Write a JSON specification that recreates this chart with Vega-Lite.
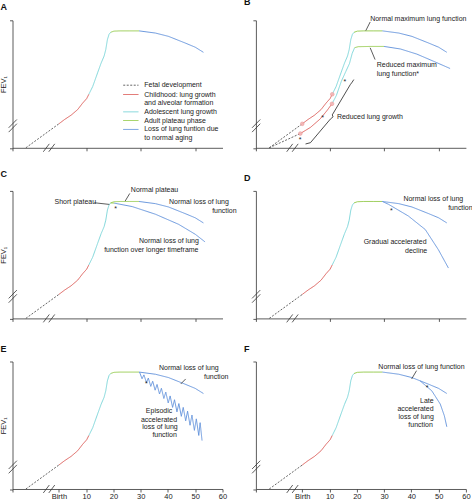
{
  "$schema": "https://vega.github.io/schema/vega-lite/v6.json",
  "padding": {"left": -0.5, "top": -1.7, "right": 0, "bottom": 0},
  "background": "white",
  "columns": 2,
  "spacing": {"row": 42.6, "column": 33.4},
  "bounds": "flush",
  "config": {
    "view": {"stroke": null},
    "font": "Liberation Sans",
    "axis": {"domainColor": "#333", "domainWidth": 0.8, "tickColor": "#333", "tickWidth": 0.8, "tickSize": 3, "grid": false, "labelFont": "Liberation Sans", "labelFontSize": 7.5, "labelColor": "#222", "labelPadding": 1, "labelOverlap": false, "labelBound": false, "titleFont": "Liberation Sans", "titleFontSize": 7.5, "titleFontWeight": "normal", "titleColor": "#222", "titlePadding": 1.5},
    "axisX": {"labelOverlap": false, "labelFlush": false},
    "axisQuantitative": {"labelOverlap": false},
    "title": {"anchor": "start", "frame": "group", "dx": -12, "offset": 7.4, "fontSize": 9, "fontWeight": "bold", "font": "Liberation Sans", "color": "#111", "baseline": "alphabetic"},
    "text": {"font": "Liberation Sans", "fontSize": 7, "color": "#222", "align": "left", "baseline": "middle"},
    "rule": {"color": "#333", "strokeWidth": 0.8}
  },
  "datasets": {
    "c": [
      {"p": "N", "id": "nf", "ph": "fetal", "x": -12.1, "y": 0},
      {"p": "N", "id": "nf", "ph": "fetal", "x": 0, "y": 18.8},
      {"p": "N", "id": "nc", "ph": "child", "x": 0, "y": 18.8},
      {"p": "N", "id": "nc", "ph": "child", "x": 2.1, "y": 22.2},
      {"p": "N", "id": "nc", "ph": "child", "x": 4.5, "y": 25.6},
      {"p": "N", "id": "nc", "ph": "child", "x": 6.9, "y": 30.0},
      {"p": "N", "id": "nc", "ph": "child", "x": 8.7, "y": 35.0},
      {"p": "N", "id": "nc", "ph": "child", "x": 10.2, "y": 38.6},
      {"p": "N", "id": "nc", "ph": "child", "x": 11.0, "y": 42.0},
      {"p": "N", "id": "na", "ph": "adol", "x": 11.0, "y": 42.0},
      {"p": "N", "id": "na", "ph": "adol", "x": 12.4, "y": 48.0},
      {"p": "N", "id": "na", "ph": "adol", "x": 14.2, "y": 58.8},
      {"p": "N", "id": "na", "ph": "adol", "x": 15.5, "y": 66.5},
      {"p": "N", "id": "na", "ph": "adol", "x": 16.6, "y": 72.0},
      {"p": "N", "id": "na", "ph": "adol", "x": 17.2, "y": 77.0},
      {"p": "N", "id": "na", "ph": "adol", "x": 17.8, "y": 84.9},
      {"p": "N", "id": "na", "ph": "adol", "x": 18.4, "y": 89.0},
      {"p": "N", "id": "na", "ph": "adol", "x": 19.0, "y": 90.6},
      {"p": "N", "id": "np", "ph": "plat", "x": 19.0, "y": 90.6},
      {"p": "N", "id": "np", "ph": "plat", "x": 20.2, "y": 91.5},
      {"p": "N", "id": "np", "ph": "plat", "x": 22.5, "y": 91.7},
      {"p": "N", "id": "np", "ph": "plat", "x": 26.0, "y": 91.7},
      {"p": "N", "id": "np", "ph": "plat", "x": 29.4, "y": 91.7},
      {"p": "N", "id": "nl", "ph": "loss", "x": 29.4, "y": 91.7},
      {"p": "N", "id": "nl", "ph": "loss", "x": 35.4, "y": 90.0},
      {"p": "N", "id": "nl", "ph": "loss", "x": 40.2, "y": 87.4},
      {"p": "N", "id": "nl", "ph": "loss", "x": 46.3, "y": 82.2},
      {"p": "N", "id": "nl", "ph": "loss", "x": 50.0, "y": 78.9},
      {"p": "N", "id": "nl", "ph": "loss", "x": 53.0, "y": 74.9},

      {"p": "A", "id": "lg1", "ph": "fetal", "x": 23.6, "y": 49.1},
      {"p": "A", "id": "lg1", "ph": "fetal", "x": 29.2, "y": 49.1},
      {"p": "A", "id": "lg2", "ph": "child", "x": 23.6, "y": 41.8},
      {"p": "A", "id": "lg2", "ph": "child", "x": 29.2, "y": 41.8},
      {"p": "A", "id": "lg3", "ph": "adol", "x": 23.6, "y": 28.2},
      {"p": "A", "id": "lg3", "ph": "adol", "x": 29.2, "y": 28.2},
      {"p": "A", "id": "lg4", "ph": "plat", "x": 23.6, "y": 21.4},
      {"p": "A", "id": "lg4", "ph": "plat", "x": 29.2, "y": 21.4},
      {"p": "A", "id": "lg5", "ph": "loss", "x": 23.6, "y": 14.4},
      {"p": "A", "id": "lg5", "ph": "loss", "x": 29.2, "y": 14.4},

      {"p": "B", "id": "bf", "ph": "fetal", "x": -12.1, "y": 0},
      {"p": "B", "id": "bf", "ph": "fetal", "x": -0.7, "y": 11.2},
      {"p": "B", "id": "bc", "ph": "child", "x": -0.7, "y": 11.2},
      {"p": "B", "id": "bc", "ph": "child", "x": 3.0, "y": 16.0},
      {"p": "B", "id": "bc", "ph": "child", "x": 6.5, "y": 22.5},
      {"p": "B", "id": "bc", "ph": "child", "x": 9.0, "y": 29.0},
      {"p": "B", "id": "bc", "ph": "child", "x": 10.9, "y": 34.5},
      {"p": "B", "id": "ba", "ph": "adol", "x": 10.9, "y": 34.5},
      {"p": "B", "id": "ba", "ph": "adol", "x": 12.5, "y": 41.0},
      {"p": "B", "id": "ba", "ph": "adol", "x": 14.3, "y": 52.0},
      {"p": "B", "id": "ba", "ph": "adol", "x": 16.0, "y": 60.0},
      {"p": "B", "id": "ba", "ph": "adol", "x": 17.3, "y": 66.0},
      {"p": "B", "id": "ba", "ph": "adol", "x": 18.3, "y": 74.0},
      {"p": "B", "id": "ba", "ph": "adol", "x": 19.2, "y": 78.5},
      {"p": "B", "id": "bp", "ph": "plat", "x": 19.2, "y": 78.5},
      {"p": "B", "id": "bp", "ph": "plat", "x": 20.5, "y": 79.3},
      {"p": "B", "id": "bp", "ph": "plat", "x": 25.0, "y": 79.5},
      {"p": "B", "id": "bp", "ph": "plat", "x": 30.0, "y": 79.5},
      {"p": "B", "id": "bl", "ph": "loss", "x": 30.0, "y": 79.5},
      {"p": "B", "id": "bl", "ph": "loss", "x": 36.0, "y": 77.5},
      {"p": "B", "id": "bl", "ph": "loss", "x": 42.0, "y": 73.5},
      {"p": "B", "id": "bl", "ph": "loss", "x": 48.0, "y": 68.0},
      {"p": "B", "id": "bl", "ph": "loss", "x": 54.2, "y": 62.2},

      {"p": "C", "id": "cp", "ph": "plat", "x": 19.0, "y": 90.6},
      {"p": "C", "id": "cp", "ph": "plat", "x": 20.3, "y": 90.4},
      {"p": "C", "id": "cl", "ph": "loss", "x": 20.3, "y": 90.4},
      {"p": "C", "id": "cl", "ph": "loss", "x": 26.9, "y": 87.7},
      {"p": "C", "id": "cl", "ph": "loss", "x": 35.4, "y": 81.7},
      {"p": "C", "id": "cl", "ph": "loss", "x": 43.9, "y": 73.8},
      {"p": "C", "id": "cl", "ph": "loss", "x": 50.0, "y": 66.0},
      {"p": "C", "id": "cl", "ph": "loss", "x": 53.6, "y": 60.0},

      {"p": "D", "id": "dl", "ph": "loss", "x": 29.4, "y": 91.7},
      {"p": "D", "id": "dl", "ph": "loss", "x": 31.6, "y": 89.5},
      {"p": "D", "id": "dl", "ph": "loss", "x": 38.9, "y": 80.3},
      {"p": "D", "id": "dl", "ph": "loss", "x": 45.1, "y": 69.7},
      {"p": "D", "id": "dl", "ph": "loss", "x": 49.9, "y": 53.9},
      {"p": "D", "id": "dl", "ph": "loss", "x": 53.6, "y": 39.5},

      {"p": "E", "id": "ez", "ph": "loss", "x": 29.6, "y": 91.6},
      {"p": "E", "id": "ez", "ph": "loss", "x": 30.5, "y": 86.5},
      {"p": "E", "id": "ez", "ph": "loss", "x": 31.2, "y": 89.5},
      {"p": "E", "id": "ez", "ph": "loss", "x": 32.1, "y": 83.5},
      {"p": "E", "id": "ez", "ph": "loss", "x": 32.8, "y": 87.0},
      {"p": "E", "id": "ez", "ph": "loss", "x": 33.7, "y": 80.5},
      {"p": "E", "id": "ez", "ph": "loss", "x": 34.4, "y": 84.5},
      {"p": "E", "id": "ez", "ph": "loss", "x": 35.3, "y": 77.5},
      {"p": "E", "id": "ez", "ph": "loss", "x": 36.0, "y": 82.0},
      {"p": "E", "id": "ez", "ph": "loss", "x": 36.9, "y": 74.5},
      {"p": "E", "id": "ez", "ph": "loss", "x": 37.6, "y": 79.0},
      {"p": "E", "id": "ez", "ph": "loss", "x": 38.5, "y": 71.0},
      {"p": "E", "id": "ez", "ph": "loss", "x": 39.2, "y": 76.0},
      {"p": "E", "id": "ez", "ph": "loss", "x": 40.1, "y": 67.5},
      {"p": "E", "id": "ez", "ph": "loss", "x": 40.8, "y": 73.0},
      {"p": "E", "id": "ez", "ph": "loss", "x": 41.7, "y": 64.0},
      {"p": "E", "id": "ez", "ph": "loss", "x": 42.4, "y": 70.0},
      {"p": "E", "id": "ez", "ph": "loss", "x": 43.3, "y": 60.5},
      {"p": "E", "id": "ez", "ph": "loss", "x": 44.0, "y": 67.0},
      {"p": "E", "id": "ez", "ph": "loss", "x": 44.9, "y": 57.0},
      {"p": "E", "id": "ez", "ph": "loss", "x": 45.6, "y": 64.0},
      {"p": "E", "id": "ez", "ph": "loss", "x": 46.5, "y": 53.5},
      {"p": "E", "id": "ez", "ph": "loss", "x": 47.2, "y": 61.0},
      {"p": "E", "id": "ez", "ph": "loss", "x": 48.1, "y": 50.0},
      {"p": "E", "id": "ez", "ph": "loss", "x": 48.8, "y": 58.0},
      {"p": "E", "id": "ez", "ph": "loss", "x": 49.7, "y": 46.0},
      {"p": "E", "id": "ez", "ph": "loss", "x": 50.4, "y": 55.0},
      {"p": "E", "id": "ez", "ph": "loss", "x": 51.3, "y": 42.0},
      {"p": "E", "id": "ez", "ph": "loss", "x": 51.8, "y": 52.0},
      {"p": "E", "id": "ez", "ph": "loss", "x": 52.5, "y": 38.0},

      {"p": "F", "id": "fl", "ph": "loss", "x": 43.2, "y": 84.8},
      {"p": "F", "id": "fl", "ph": "loss", "x": 47.5, "y": 77.0},
      {"p": "F", "id": "fl", "ph": "loss", "x": 50.6, "y": 66.6},
      {"p": "F", "id": "fl", "ph": "loss", "x": 52.1, "y": 57.4},
      {"p": "F", "id": "fl", "ph": "loss", "x": 53.0, "y": 48.8}
    ],
    "s": [
      {"p": "all", "x": -5.7, "y": -3.1, "x2": -3.5, "y2": 3.1},
      {"p": "all", "x": -3.7, "y": -3.1, "x2": -1.5, "y2": 3.1},
      {"p": "all", "x": -18.4, "y": 15.7, "x2": -15.4, "y2": 22.2},
      {"p": "all", "x": -18.4, "y": 12.3, "x2": -15.4, "y2": 18.9},
      {"p": "B", "x": 23.3, "y": 91.9, "x2": 24.9, "y2": 98.7},
      {"p": "B", "x": 24.9, "y": 78.4, "x2": 26.7, "y2": 69.2},
      {"p": "C", "x": 13.0, "y": 90.7, "x2": 18.5, "y2": 89.4},
      {"p": "C", "x": 24.3, "y": 92.0, "x2": 26.0, "y2": 98.0},
      {"p": "E", "x": 44.7, "y": 82.4, "x2": 46.5, "y2": 86.3},
      {"p": "F", "x": 40.1, "y": 86.3, "x2": 41.9, "y2": 92.8}
    ],
    "br": [
      {"o": 1, "x": 1.2, "y": 3.0},
      {"o": 2, "x": 3.0, "y": 4.0},
      {"o": 3, "x": 10.3, "y": 22.5},
      {"o": 4, "x": 11.3, "y": 24.3},
      {"o": 5, "x": 11.0, "y": 25.8},
      {"o": 6, "x": 17.6, "y": 49.5},
      {"o": 7, "x": 18.3, "y": 51.5},
      {"o": 8, "x": 18.9, "y": 53.5}
    ],
    "pt": [
      {"x": 0, "y": 18.8},
      {"x": -0.7, "y": 11.2},
      {"x": 11.0, "y": 42.0},
      {"x": 10.9, "y": 34.5}
    ],
    "t": [
      {"p": "A", "x": 31.3, "y": 49.1, "t": "Fetal development"},
      {"p": "A", "x": 31.3, "y": 41.8, "t": "Childhood: lung growth"},
      {"p": "A", "x": 31.3, "y": 35.0, "t": "and alveolar formation"},
      {"p": "A", "x": 31.3, "y": 28.2, "t": "Adolescent lung growth"},
      {"p": "A", "x": 31.3, "y": 21.4, "t": "Adult plateau phase"},
      {"p": "A", "x": 31.3, "y": 14.4, "t": "Loss of lung funtion due"},
      {"p": "A", "x": 31.3, "y": 7.8, "t": "to normal aging"},
      {"p": "B", "x": 24.9, "y": 101.2, "t": "Normal maximum lung function"},
      {"p": "B", "x": 27.3, "y": 65.3, "t": "Reduced maximum"},
      {"p": "B", "x": 27.3, "y": 58.0, "t": "lung function*"},
      {"p": "B", "x": 12.7, "y": 24.5, "t": "Reduced lung growth"},
      {"p": "B", "x": 15.1, "y": 51.7, "t": "*"},
      {"p": "B", "x": 7.0, "y": 23.5, "t": "*"},
      {"p": "B", "x": -1.3, "y": 6.5, "t": "*"},
      {"p": "C", "x": -1.6, "y": 91.5, "t": "Short plateau"},
      {"p": "C", "x": 26.4, "y": 100.6, "t": "Normal plateau"},
      {"p": "C", "x": 40.4, "y": 91.5, "t": "Normal loss of lung"},
      {"p": "C", "x": 56.2, "y": 84.5, "t": "function"},
      {"p": "C", "x": 29.4, "y": 60.7, "t": "Normal loss of lung"},
      {"p": "C", "x": 16.6, "y": 53.6, "t": "function over longer timeframe"},
      {"p": "C", "x": 20.3, "y": 86.0, "t": "*"},
      {"p": "D", "x": 37.1, "y": 93.5, "t": "Normal loss of lung"},
      {"p": "D", "x": 53.5, "y": 86.4, "t": "function"},
      {"p": "D", "x": 22.5, "y": 60.2, "t": "Gradual accelerated"},
      {"p": "D", "x": 37.7, "y": 52.9, "t": "decline"},
      {"p": "D", "x": 32.2, "y": 84.6, "t": "*"},
      {"p": "E", "x": 36.7, "y": 94.9, "t": "Normal loss of lung"},
      {"p": "E", "x": 53.2, "y": 88.1, "t": "function"},
      {"p": "E", "x": 31.9, "y": 61.4, "t": "Episodic"},
      {"p": "E", "x": 30.1, "y": 54.4, "t": "accelerated"},
      {"p": "E", "x": 30.6, "y": 48.4, "t": "loss of lung"},
      {"p": "E", "x": 34.3, "y": 42.4, "t": "function"},
      {"p": "E", "x": 31.6, "y": 82.4, "t": "*"},
      {"p": "F", "x": 27.9, "y": 95.8, "t": "Normal loss of lung function"},
      {"p": "F", "x": 43.2, "y": 69.4, "t": "Late"},
      {"p": "F", "x": 34.9, "y": 63.1, "t": "accelerated"},
      {"p": "F", "x": 35.3, "y": 56.6, "t": "loss of lung"},
      {"p": "F", "x": 38.9, "y": 50.4, "t": "function"},
      {"p": "F", "x": 45.3, "y": 79.2, "t": "*"}
    ]
  },
  "concat": [
    {
      "title": {"text": "A"}, "width": 210, "height": 127.5,
      "layer": [
        {"data": {"name": "c"}, "transform": [{"filter": "datum.p == 'N' || datum.p == 'A'"}],
         "mark": {"type": "line", "strokeWidth": 0.9},
         "encoding": {
           "x": {"field": "x", "type": "quantitative", "scale": {"domain": [-17, 60], "nice": false, "zero": false}, "axis": {"values": [-17, 0, 10, 20, 30, 40, 50, 60], "labels": false, "title": null}},
           "y": {"field": "y", "type": "quantitative", "scale": {"domain": [0, 100], "nice": false, "zero": false}, "axis": {"values": [0, 100], "labels": false, "title": "FEV₁"}},
           "color": {"field": "ph", "type": "nominal", "scale": {"domain": ["fetal", "child", "adol", "plat", "loss"], "range": ["#555555", "#d9534f", "#73d2d6", "#8dc63f", "#5b8dd9"]}, "legend": null},
           "strokeDash": {"field": "ph", "type": "nominal", "scale": {"domain": ["fetal", "child", "adol", "plat", "loss"], "range": [[2, 1.5], [1, 0], [1, 0], [1, 0], [1, 0]]}, "legend": null},
           "detail": {"field": "id"}}},
        {"data": {"name": "s"}, "transform": [{"filter": "datum.p == 'all' || datum.p == 'A'"}],
         "mark": {"type": "rule"},
         "encoding": {"x": {"field": "x", "type": "quantitative"}, "y": {"field": "y", "type": "quantitative"}, "x2": {"field": "x2"}, "y2": {"field": "y2"}}},
        {"data": {"name": "t"}, "transform": [{"filter": "datum.p == 'A'"}],
         "mark": {"type": "text"},
         "encoding": {"x": {"field": "x", "type": "quantitative"}, "y": {"field": "y", "type": "quantitative"}, "text": {"field": "t"}}}
      ]
    },
    {
      "title": {"text": "B"}, "width": 210, "height": 127.5,
      "layer": [
        {"data": {"name": "c"}, "transform": [{"filter": "datum.p == 'N' || datum.p == 'B'"}],
         "mark": {"type": "line", "strokeWidth": 0.9},
         "encoding": {
           "x": {"field": "x", "type": "quantitative", "scale": {"domain": [-17, 60], "nice": false, "zero": false}, "axis": {"values": [-17, 0, 10, 20, 30, 40, 50, 60], "labels": false, "title": null}},
           "y": {"field": "y", "type": "quantitative", "scale": {"domain": [0, 100], "nice": false, "zero": false}, "axis": {"values": [0, 100], "labels": false, "title": null}},
           "color": {"field": "ph", "type": "nominal", "scale": {"domain": ["fetal", "child", "adol", "plat", "loss"], "range": ["#555555", "#d9534f", "#73d2d6", "#8dc63f", "#5b8dd9"]}, "legend": null},
           "strokeDash": {"field": "ph", "type": "nominal", "scale": {"domain": ["fetal", "child", "adol", "plat", "loss"], "range": [[2, 1.5], [1, 0], [1, 0], [1, 0], [1, 0]]}, "legend": null},
           "detail": {"field": "id"}}},
        {"data": {"name": "pt"},
         "mark": {"type": "point", "filled": true, "size": 14, "color": "#f4b4b4", "stroke": "#e48a8a", "strokeWidth": 0.5, "opacity": 0.9},
         "encoding": {"x": {"field": "x", "type": "quantitative"}, "y": {"field": "y", "type": "quantitative"}}},
        {"data": {"name": "br"},
         "mark": {"type": "line", "color": "#222", "strokeWidth": 0.8},
         "encoding": {"x": {"field": "x", "type": "quantitative"}, "y": {"field": "y", "type": "quantitative"}, "order": {"field": "o"}}},
        {"data": {"name": "s"}, "transform": [{"filter": "datum.p == 'all' || datum.p == 'B'"}],
         "mark": {"type": "rule"},
         "encoding": {"x": {"field": "x", "type": "quantitative"}, "y": {"field": "y", "type": "quantitative"}, "x2": {"field": "x2"}, "y2": {"field": "y2"}}},
        {"data": {"name": "t"}, "transform": [{"filter": "datum.p == 'B'"}],
         "mark": {"type": "text"},
         "encoding": {"x": {"field": "x", "type": "quantitative"}, "y": {"field": "y", "type": "quantitative"}, "text": {"field": "t"}}}
      ]
    },
    {
      "title": {"text": "C"}, "width": 210, "height": 127.5,
      "layer": [
        {"data": {"name": "c"}, "transform": [{"filter": "datum.p == 'N' || datum.p == 'C'"}],
         "mark": {"type": "line", "strokeWidth": 0.9},
         "encoding": {
           "x": {"field": "x", "type": "quantitative", "scale": {"domain": [-17, 60], "nice": false, "zero": false}, "axis": {"values": [-17, 0, 10, 20, 30, 40, 50, 60], "labels": false, "title": null}},
           "y": {"field": "y", "type": "quantitative", "scale": {"domain": [0, 100], "nice": false, "zero": false}, "axis": {"values": [0, 100], "labels": false, "title": "FEV₁"}},
           "color": {"field": "ph", "type": "nominal", "scale": {"domain": ["fetal", "child", "adol", "plat", "loss"], "range": ["#555555", "#d9534f", "#73d2d6", "#8dc63f", "#5b8dd9"]}, "legend": null},
           "strokeDash": {"field": "ph", "type": "nominal", "scale": {"domain": ["fetal", "child", "adol", "plat", "loss"], "range": [[2, 1.5], [1, 0], [1, 0], [1, 0], [1, 0]]}, "legend": null},
           "detail": {"field": "id"}}},
        {"data": {"name": "s"}, "transform": [{"filter": "datum.p == 'all' || datum.p == 'C'"}],
         "mark": {"type": "rule"},
         "encoding": {"x": {"field": "x", "type": "quantitative"}, "y": {"field": "y", "type": "quantitative"}, "x2": {"field": "x2"}, "y2": {"field": "y2"}}},
        {"data": {"name": "t"}, "transform": [{"filter": "datum.p == 'C'"}],
         "mark": {"type": "text"},
         "encoding": {"x": {"field": "x", "type": "quantitative"}, "y": {"field": "y", "type": "quantitative"}, "text": {"field": "t"}}}
      ]
    },
    {
      "title": {"text": "D"}, "width": 210, "height": 127.5,
      "layer": [
        {"data": {"name": "c"}, "transform": [{"filter": "datum.p == 'N' || datum.p == 'D'"}],
         "mark": {"type": "line", "strokeWidth": 0.9},
         "encoding": {
           "x": {"field": "x", "type": "quantitative", "scale": {"domain": [-17, 60], "nice": false, "zero": false}, "axis": {"values": [-17, 0, 10, 20, 30, 40, 50, 60], "labels": false, "title": null}},
           "y": {"field": "y", "type": "quantitative", "scale": {"domain": [0, 100], "nice": false, "zero": false}, "axis": {"values": [0, 100], "labels": false, "title": null}},
           "color": {"field": "ph", "type": "nominal", "scale": {"domain": ["fetal", "child", "adol", "plat", "loss"], "range": ["#555555", "#d9534f", "#73d2d6", "#8dc63f", "#5b8dd9"]}, "legend": null},
           "strokeDash": {"field": "ph", "type": "nominal", "scale": {"domain": ["fetal", "child", "adol", "plat", "loss"], "range": [[2, 1.5], [1, 0], [1, 0], [1, 0], [1, 0]]}, "legend": null},
           "detail": {"field": "id"}}},
        {"data": {"name": "s"}, "transform": [{"filter": "datum.p == 'all' || datum.p == 'D'"}],
         "mark": {"type": "rule"},
         "encoding": {"x": {"field": "x", "type": "quantitative"}, "y": {"field": "y", "type": "quantitative"}, "x2": {"field": "x2"}, "y2": {"field": "y2"}}},
        {"data": {"name": "t"}, "transform": [{"filter": "datum.p == 'D'"}],
         "mark": {"type": "text"},
         "encoding": {"x": {"field": "x", "type": "quantitative"}, "y": {"field": "y", "type": "quantitative"}, "text": {"field": "t"}}}
      ]
    },
    {
      "title": {"text": "E"}, "width": 210, "height": 127.5,
      "layer": [
        {"data": {"name": "c"}, "transform": [{"filter": "datum.p == 'N' || datum.p == 'E'"}],
         "mark": {"type": "line", "strokeWidth": 0.9},
         "encoding": {
           "x": {"field": "x", "type": "quantitative", "scale": {"domain": [-17, 60], "nice": false, "zero": false}, "axis": {"values": [-17, 0, 10, 20, 30, 40, 50, 60], "labels": true, "labelOverlap": false, "labelFlush": false, "labelExpr": "datum.value == 0 ? 'Birth' : (datum.value < 0 ? '' : datum.label)", "title": null}},
           "y": {"field": "y", "type": "quantitative", "scale": {"domain": [0, 100], "nice": false, "zero": false}, "axis": {"values": [0, 100], "labels": false, "title": "FEV₁"}},
           "color": {"field": "ph", "type": "nominal", "scale": {"domain": ["fetal", "child", "adol", "plat", "loss"], "range": ["#555555", "#d9534f", "#73d2d6", "#8dc63f", "#5b8dd9"]}, "legend": null},
           "strokeDash": {"field": "ph", "type": "nominal", "scale": {"domain": ["fetal", "child", "adol", "plat", "loss"], "range": [[2, 1.5], [1, 0], [1, 0], [1, 0], [1, 0]]}, "legend": null},
           "detail": {"field": "id"}}},
        {"data": {"name": "s"}, "transform": [{"filter": "datum.p == 'all' || datum.p == 'E'"}],
         "mark": {"type": "rule"},
         "encoding": {"x": {"field": "x", "type": "quantitative", "axis": {"values": [-17, 0, 10, 20, 30, 40, 50, 60], "labels": true, "labelOverlap": false, "labelFlush": false, "labelExpr": "datum.value == 0 ? 'Birth' : (datum.value < 0 ? '' : datum.label)", "title": null}}, "y": {"field": "y", "type": "quantitative"}, "x2": {"field": "x2"}, "y2": {"field": "y2"}}},
        {"data": {"name": "t"}, "transform": [{"filter": "datum.p == 'E'"}],
         "mark": {"type": "text"},
         "encoding": {"x": {"field": "x", "type": "quantitative", "axis": {"values": [-17, 0, 10, 20, 30, 40, 50, 60], "labels": true, "labelOverlap": false, "labelFlush": false, "labelExpr": "datum.value == 0 ? 'Birth' : (datum.value < 0 ? '' : datum.label)", "title": null}}, "y": {"field": "y", "type": "quantitative"}, "text": {"field": "t"}}}
      ]
    },
    {
      "title": {"text": "F"}, "width": 210, "height": 127.5,
      "layer": [
        {"data": {"name": "c"}, "transform": [{"filter": "datum.p == 'N' || datum.p == 'F'"}],
         "mark": {"type": "line", "strokeWidth": 0.9},
         "encoding": {
           "x": {"field": "x", "type": "quantitative", "scale": {"domain": [-17, 60], "nice": false, "zero": false}, "axis": {"values": [-17, 0, 10, 20, 30, 40, 50, 60], "labels": true, "labelOverlap": false, "labelFlush": false, "labelExpr": "datum.value == 0 ? 'Birth' : (datum.value < 0 ? '' : datum.label)", "title": null}},
           "y": {"field": "y", "type": "quantitative", "scale": {"domain": [0, 100], "nice": false, "zero": false}, "axis": {"values": [0, 100], "labels": false, "title": null}},
           "color": {"field": "ph", "type": "nominal", "scale": {"domain": ["fetal", "child", "adol", "plat", "loss"], "range": ["#555555", "#d9534f", "#73d2d6", "#8dc63f", "#5b8dd9"]}, "legend": null},
           "strokeDash": {"field": "ph", "type": "nominal", "scale": {"domain": ["fetal", "child", "adol", "plat", "loss"], "range": [[2, 1.5], [1, 0], [1, 0], [1, 0], [1, 0]]}, "legend": null},
           "detail": {"field": "id"}}},
        {"data": {"name": "s"}, "transform": [{"filter": "datum.p == 'all' || datum.p == 'F'"}],
         "mark": {"type": "rule"},
         "encoding": {"x": {"field": "x", "type": "quantitative", "axis": {"values": [-17, 0, 10, 20, 30, 40, 50, 60], "labels": true, "labelOverlap": false, "labelFlush": false, "labelExpr": "datum.value == 0 ? 'Birth' : (datum.value < 0 ? '' : datum.label)", "title": null}}, "y": {"field": "y", "type": "quantitative"}, "x2": {"field": "x2"}, "y2": {"field": "y2"}}},
        {"data": {"name": "t"}, "transform": [{"filter": "datum.p == 'F'"}],
         "mark": {"type": "text"},
         "encoding": {"x": {"field": "x", "type": "quantitative", "axis": {"values": [-17, 0, 10, 20, 30, 40, 50, 60], "labels": true, "labelOverlap": false, "labelFlush": false, "labelExpr": "datum.value == 0 ? 'Birth' : (datum.value < 0 ? '' : datum.label)", "title": null}}, "y": {"field": "y", "type": "quantitative"}, "text": {"field": "t"}}}
      ]
    }
  ]
}
